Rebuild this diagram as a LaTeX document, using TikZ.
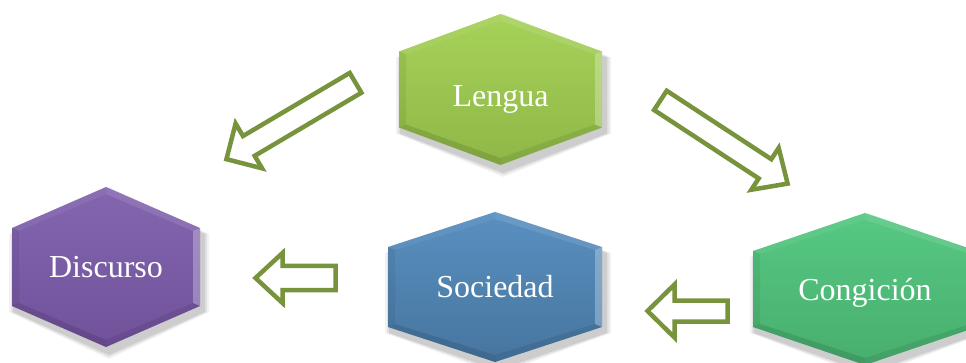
\documentclass[tikz,border=0pt]{standalone}
\usepackage{fontspec}
\setmainfont{Liberation Serif}
\definecolor{arrowgreen}{HTML}{77933C}
\definecolor{lenguaT}{HTML}{A6D259}
\definecolor{lenguaB}{HTML}{8FB747}
\definecolor{discT}{HTML}{8466B0}
\definecolor{discB}{HTML}{70519A}
\definecolor{socT}{HTML}{5990C0}
\definecolor{socB}{HTML}{46759F}
\definecolor{congT}{HTML}{56C983}
\definecolor{congB}{HTML}{48AE6E}
\tikzset{
  hexlabel/.style={text=white, font=\fontsize{32}{36}\selectfont, anchor=base, inner sep=0pt},
  arrowbody/.style={draw=arrowgreen, fill=white, line width=4.5pt, line join=miter},
}
% #1 cx, #2 cy, #3 w, #4 h, #5 s, #6 top colour, #7 bottom colour
\newcommand{\hexa}[7]{%
  \foreach \e/\o in {6/0.05,4/0.07,2/0.09}{%
    \fill[black, opacity=\o]
      (#1+3,#2-#4+6-\e) -- (#1+#3+3+\e,#2-#5+6) -- (#1+#3+3+\e,#2+#5+6) -- (#1+3,#2+#4+6+\e)
      -- (#1-#3+3-\e,#2+#5+6) -- (#1-#3+3-\e,#2-#5+6) -- cycle;}
  \shade[top color=#6, bottom color=#7]
    (#1,#2-#4) -- (#1+#3,#2-#5) -- (#1+#3,#2+#5) -- (#1,#2+#4) -- (#1-#3,#2+#5) -- (#1-#3,#2-#5) -- cycle;
  % bevel strips
  \fill[white, opacity=0.28] (#1+#3,#2-#5) -- (#1+#3,#2+#5) -- (#1+#3-7,#2+#5-3) -- (#1+#3-7,#2-#5+3) -- cycle;
  \fill[white, opacity=0.10] (#1,#2-#4) -- (#1+#3,#2-#5) -- (#1+#3-7,#2-#5+3) -- (#1,#2-#4+7) -- cycle;
  \fill[white, opacity=0.06] (#1,#2-#4) -- (#1-#3,#2-#5) -- (#1-#3+7,#2-#5+3) -- (#1,#2-#4+7) -- cycle;
  \fill[black, opacity=0.06] (#1-#3,#2-#5) -- (#1-#3,#2+#5) -- (#1-#3+7,#2+#5-3) -- (#1-#3+7,#2-#5+3) -- cycle;
  \fill[black, opacity=0.08] (#1,#2+#4) -- (#1+#3,#2+#5) -- (#1+#3-7,#2+#5-3) -- (#1,#2+#4-7) -- cycle;
  \fill[black, opacity=0.11] (#1,#2+#4) -- (#1-#3,#2+#5) -- (#1-#3+7,#2+#5-3) -- (#1,#2+#4-7) -- cycle;
}
% #1 name, #2 cx, #3 cy, #4 angle, #5 length, #6 shaft width, #7 head width, #8 head length
\newcommand{\blockarrow}[8]{%
  \begin{scope}[shift={(#2,#3)}, rotate=#4]
    \draw[arrowbody] (-#5/2,-#6/2) -- (#5/2-#8,-#6/2) -- (#5/2-#8,-#7/2) -- (#5/2,0)
      -- (#5/2-#8,#7/2) -- (#5/2-#8,#6/2) -- (-#5/2,#6/2) -- cycle;
    \coordinate (#1) at (0,0);
  \end{scope}}
\begin{document}
\begin{tikzpicture}[x=1pt, y=-1pt]
  \useasboundingbox (0,0) rectangle (966,363);
  \begin{scope}
    \clip (0,0) rectangle (966,363);
    % hexagons
    \hexa{500.5}{89.5}{101.5}{75.5}{38}{lenguaT}{lenguaB}
    \hexa{106}{267}{94}{80}{39}{discT}{discB}
    \hexa{495}{287}{107}{75}{40}{socT}{socB}
    \hexa{865}{289}{112}{76}{38}{congT}{congB}
  \end{scope}
  % labels
  \node[hexlabel] (lengua) at (500.5,107) {Lengua};
  \node[hexlabel] (discurso) at (106,277) {Discurso};
  \node[hexlabel] (sociedad) at (495,298) {Sociedad};
  \node[hexlabel] (congicion) at (865,300) {Congición};
  % block arrows
  \blockarrow{a1}{291}{121}{210.6}{150}{23}{52}{26}
  \blockarrow{a2}{724}{142}{-33.2}{152}{23}{50}{27}
  \blockarrow{a3}{295.5}{278}{180}{80}{24}{50}{27}
  \blockarrow{a4}{687.5}{311}{180}{80}{21}{53}{27}
\end{tikzpicture}
\end{document}
